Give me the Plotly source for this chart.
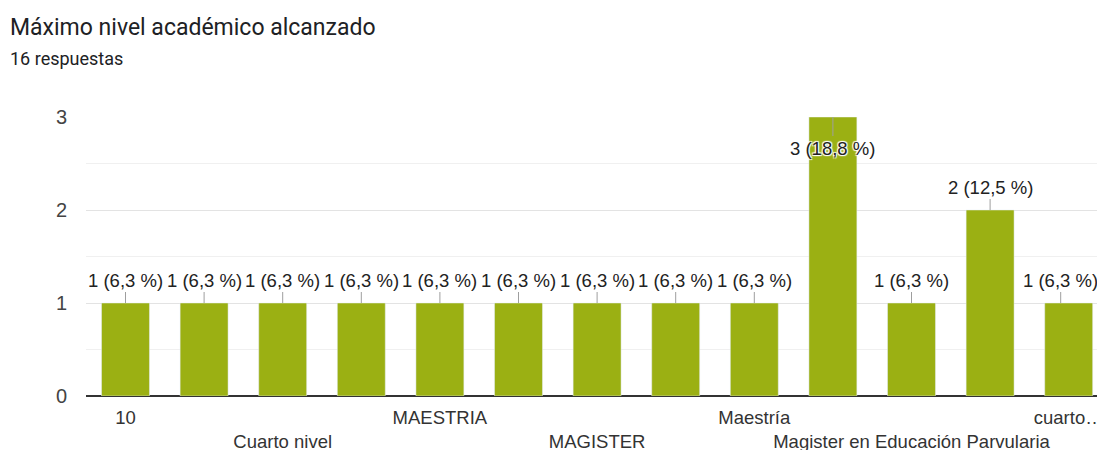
import plotly.graph_objects as go

categories = ["10", "Cuarto Nivel", "Cuarto nivel", "Licenciatura", "MAESTRIA", "MAESTRÍA",
              "MAGISTER", "Maestria", "Maestría", "Magister", "Magister en Educación Parvularia",
              "Magíster", "cuarto nivel"]
values = [1, 1, 1, 1, 1, 1, 1, 1, 1, 3, 1, 2, 1]
percents = ["6,3", "6,3", "6,3", "6,3", "6,3", "6,3", "6,3", "6,3", "6,3", "18,8", "6,3", "12,5", "6,3"]
tick_labels = ["10", "", "<br>Cuarto nivel", "", "MAESTRIA", "", "<br>MAGISTER", "",
               "Maestría", "", "<br>Magister en Educación Parvularia", "", "cuarto…"]

BAR = "#9bb013"
FONT = "Liberation Sans, Arial, sans-serif"
L, T, B, R = 78, 109, 62, 5

fig = go.Figure(go.Bar(x=categories, y=values, marker_color=BAR, hoverinfo="skip"))

halo = "1px 1px 1px #fff, -1px -1px 1px #fff, 1px -1px 1px #fff, -1px 1px 1px #fff"
for i, (v, p) in enumerate(zip(values, percents)):
    inside = v >= 3
    fig.add_annotation(
        x=i, y=v, xref="x", yref="y",
        text=f"{v} ({p} %)", showarrow=True, arrowhead=0, arrowwidth=1,
        arrowcolor="#9e9e9e", ax=0, xshift=-8 if i == len(values) - 1 else 0,
        ay=31 if inside else -23,
        font=dict(family=FONT, size=18.5, color="#222222",
                  shadow=halo if inside else "none"),
    )

fig.add_annotation(x=0, y=1, xref="paper", yref="paper", xshift=-L, yshift=T - 19,
                   xanchor="left", yanchor="middle", showarrow=False,
                   text="Máximo nivel académico alcanzado",
                   font=dict(family="Roboto, sans-serif", size=23, color="#202124"))
fig.add_annotation(x=0, y=1, xref="paper", yref="paper", xshift=-L, yshift=T - 50,
                   xanchor="left", yanchor="middle", showarrow=False,
                   text="16 respuestas",
                   font=dict(family="Roboto, sans-serif", size=18, color="#202124"))

fig.update_layout(
    width=1105, height=450,
    margin=dict(l=L, r=R, t=T, b=B, autoexpand=False),
    paper_bgcolor="white", plot_bgcolor="white",
    bargap=0.39, showlegend=False,
    font=dict(family=FONT, color="#444444", size=18),
    xaxis=dict(
        type="category", tickmode="array", tickvals=categories, ticktext=tick_labels,
        tickfont=dict(family=FONT, size=18.5, color="#333333"), tickangle=0,
        showgrid=False, showline=False, ticks="", ticklen=0, ticklabelstandoff=8,
        automargin=False,
    ),
    yaxis=dict(
        range=[0, 3], dtick=1, tickfont=dict(family=FONT, size=20, color="#444444"),
        showgrid=True, gridcolor="#e3e3e3", gridwidth=1,
        zeroline=True, zerolinecolor="#333333", zerolinewidth=2,
        minor=dict(dtick=0.5, showgrid=True, gridcolor="#f0f0f0", gridwidth=1),
        ticks="", ticklabelstandoff=18, automargin=False,
    ),
)

fig.write_html("out.html")
